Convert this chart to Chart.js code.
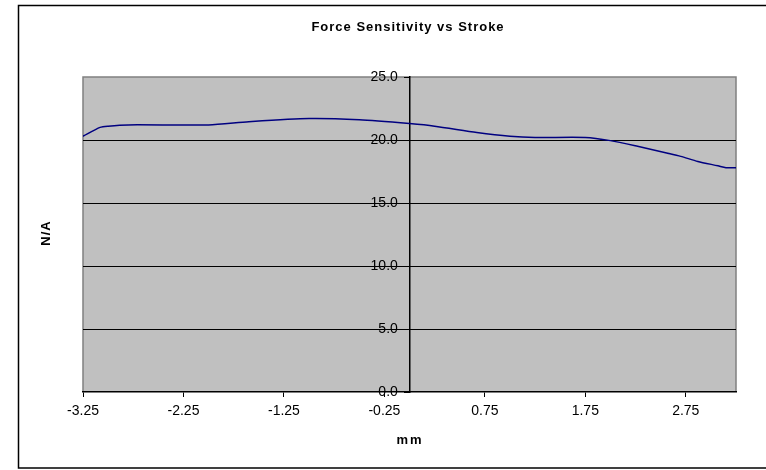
<!DOCTYPE html>
<html>
<head>
<meta charset="utf-8">
<title>Force Sensitivity vs Stroke</title>
<script src="https://cdn.jsdelivr.net/npm/chart.js@4/dist/chart.umd.min.js"></script>
<style>
    html, body { margin: 0; padding: 0; background: #ffffff; }
    #wrap { width: 766px; height: 470px; }
</style>
</head>
<body>
<div id="wrap"><canvas id="forceChart" width="766" height="470"></canvas></div>
<script>
// stroke position (mm) and force sensitivity (N/A)
const strokeMm = [-3.25, -3.08, -3.0, -2.8, -2.0, -1.6, -1.0, -0.5, 0.0, 0.25, 0.67, 1.0, 1.25, 1.75, 2.0, 2.27, 2.57, 2.7, 2.87, 3.07, 3.15, 3.25];
const sensitivity = [20.3, 21.0, 21.1, 21.2, 21.2, 21.45, 21.7, 21.6, 21.3, 21.1, 20.6, 20.3, 20.2, 20.2, 19.95, 19.5, 18.95, 18.7, 18.3, 17.95, 17.8, 17.8];
const xTickValues = [-3.25, -2.25, -1.25, -0.25, 0.75, 1.75, 2.75];
const yTickValues = [0, 5, 10, 15, 20, 25];

const chartTitle = 'Force Sensitivity vs Stroke';
const xTitle = 'mm';
const yTitle = 'N/A';

// gray plot area, outer frame and the three titles, Excel style
const excelLook = {
    id: 'excelLook',
    beforeDraw(chart) {
        const { ctx, chartArea: a } = chart;
        ctx.save();
        ctx.fillStyle = '#ffffff';
        ctx.fillRect(0, 0, chart.width, chart.height);
        ctx.strokeStyle = '#000000';
        ctx.lineWidth = 1.5;
        ctx.strokeRect(18.5, 5.5, 800, 462.5);
        ctx.fillStyle = '#c0c0c0';
        ctx.fillRect(a.left, a.top, a.right - a.left, a.bottom - a.top);
        ctx.strokeStyle = '#808080';
        ctx.lineWidth = 1.5;
        ctx.beginPath();
        ctx.moveTo(a.left, a.bottom);
        ctx.lineTo(a.left, a.top);
        ctx.lineTo(a.right, a.top);
        ctx.lineTo(a.right, a.bottom);
        ctx.stroke();
        ctx.restore();
    },
    afterDraw(chart) {
        const { ctx } = chart;
        ctx.save();
        ctx.fillStyle = '#000000';
        ctx.textAlign = 'center';
        ctx.textBaseline = 'middle';
        ctx.font = 'bold 13px "Liberation Sans", Arial, sans-serif';
        ctx.letterSpacing = '1px';
        ctx.fillText(chartTitle, 408, 27);
        ctx.letterSpacing = '2px';
        ctx.fillText(xTitle, 410, 440);
        ctx.letterSpacing = '1px';
        ctx.translate(46, 233);
        ctx.rotate(-Math.PI / 2);
        ctx.fillText(yTitle, 0, 0);
        ctx.restore();
    }
};

const ctx = document.getElementById('forceChart').getContext('2d');
const forceChart = new Chart(ctx, {
    type: 'line',
    data: {
        datasets: [{
            label: 'N/A',
            data: strokeMm.map((x, i) => ({ x: x, y: sensitivity[i] })),
            borderColor: '#000080',
            borderWidth: 1.5,
            pointRadius: 0,
            tension: 0.25,
            fill: false
        }]
    },
    options: {
        responsive: false,
        devicePixelRatio: 1,
        animation: false,
        layout: { padding: { left: 83, right: 30, top: 77, bottom: 0 } },
        plugins: {
            legend: { display: false },
            title: { display: false },
            tooltip: { enabled: false }
        },
        scales: {
            x: {
                type: 'linear',
                min: -3.25,
                max: 3.25,
                afterBuildTicks: (s) => { s.ticks = xTickValues.map(v => ({ value: v })); },
                afterFit: (s) => { s.height = 78; },
                ticks: {
                    autoSkip: false,
                    maxRotation: 0,
                    padding: 6,
                    color: '#000000',
                    font: { family: '"Liberation Sans", Arial, sans-serif', size: 14 },
                    callback: (v) => Number(v).toFixed(2)
                },
                grid: { drawOnChartArea: false, drawTicks: true, tickLength: 5, color: '#000000' },
                border: { color: '#000000', width: 1.5 }
            },
            y: {
                type: 'linear',
                position: { x: 0 },
                min: 0,
                max: 25,
                afterBuildTicks: (s) => { s.ticks = yTickValues.map(v => ({ value: v })); },
                ticks: {
                    padding: 4,
                    color: '#000000',
                    font: { family: '"Liberation Sans", Arial, sans-serif', size: 14 },
                    // trailing spaces keep the right-aligned labels clear of the centre axis
                    callback: (v) => Number(v).toFixed(1) + '   '
                },
                grid: {
                    color: (c) => (c.tick && (c.tick.value === 25 || c.tick.value === 0)) ? 'rgba(0,0,0,0)' : '#000000',
                    tickColor: '#000000',
                    tickLength: 5,
                    lineWidth: 1
                },
                border: { color: '#000000', width: 1.5 }
            }
        }
    },
    plugins: [excelLook]
});
</script>
</body>
</html>
